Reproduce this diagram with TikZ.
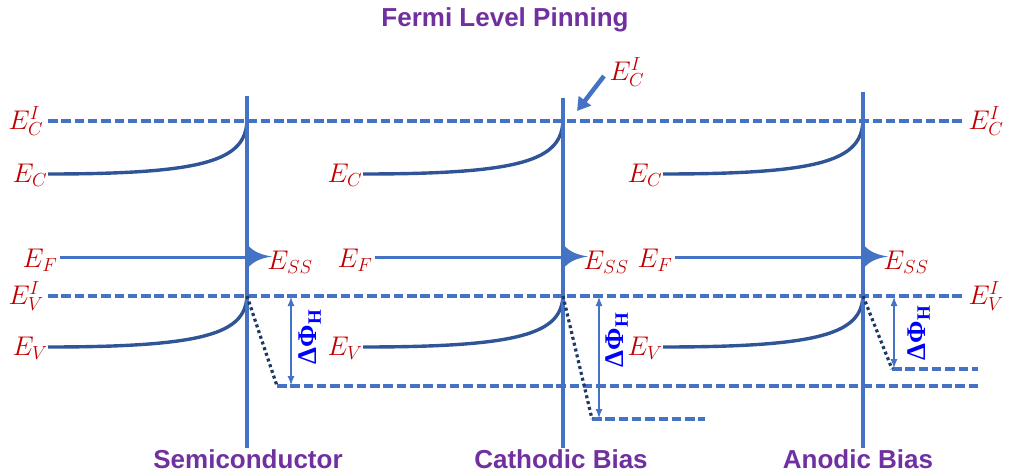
\RequirePackage{fix-cm}
\documentclass[tikz,border=0pt]{standalone}
\usepackage{fontspec}
\newfontfamily\titlefont{Liberation Sans}
\newfontfamily\greekfont{Liberation Serif}
\usetikzlibrary{arrows.meta}
\definecolor{lineblue}{HTML}{4472C4}
\definecolor{curveblue}{HTML}{2F5597}
\definecolor{navyd}{HTML}{1F3864}
\definecolor{labred}{HTML}{C00000}
\definecolor{purp}{HTML}{7030A0}
\definecolor{dblue}{HTML}{0000FF}
\begin{document}
\begin{tikzpicture}[x=1pt,y=-1pt,
 wall/.style={lineblue,line width=3.6pt},
 level/.style={lineblue,line width=3.2pt,dash pattern=on 9.5pt off 3.8pt},
 band/.style={curveblue,line width=3.4pt},
 fermi/.style={lineblue,line width=3pt},
 drop/.style={navyd,line width=3.2pt,dash pattern=on 3pt off 3pt},
 gaparrow/.style={lineblue,line width=1.1pt,{Latex[length=9pt,width=7pt]}-{Latex[length=9pt,width=7pt]}},
 elab/.style={labred,font=\fontsize{27}{30}\selectfont,inner sep=0pt},
 head/.style={purp,font=\titlefont\bfseries\fontsize{26}{30}\selectfont,inner sep=0pt},
 dphi/.style={dblue,rotate=90,font=\greekfont\bfseries\fontsize{27}{30}\selectfont,inner sep=0pt},
 ssfan/.style={fill=lineblue}]
\path[use as bounding box] (0,0) rectangle (1011,473);

% interface levels
\coordinate (eci-l) at (48,121);
\coordinate (eci-r) at (963,121);
\coordinate (evi-l) at (48,296);
\coordinate (evi-r) at (963,296);
\draw[level] (eci-l) -- (eci-r);
\draw[level] (evi-l) -- (evi-r);
\node[elab] (ecilab) at (26,121) {$E_C^I$};
\node[elab] (evilab) at (26,296) {$E_V^I$};
\node[elab] (ecirlab) at (986,121) {$E_C^I$};
\node[elab] (evirlab) at (986,296) {$E_V^I$};

% bottom shifted levels
\coordinate (d1a) at (277,386);
\coordinate (d1b) at (978,386);
\coordinate (d2a) at (592,419);
\coordinate (d2b) at (705,419);
\coordinate (d3a) at (892,369);
\coordinate (d3b) at (978,369);
\draw[level] (d1a) -- (d1b);
\draw[level] (d2a) -- (d2b);
\draw[level] (d3a) -- (d3b);

\foreach \i/\x/\s/\top in {1/247/48/96, 2/563/363/98, 3/863/663/92}{
  \coordinate (ec\i) at (\s,174);
  \coordinate (ev\i) at (\s,347);
  \coordinate (ef\i) at (\s+12,257);
  \coordinate (wt\i) at (\x,\top);
  \coordinate (wb\i) at (\x,448);
  \coordinate (wc\i) at (\x,121);
  \coordinate (wv\i) at (\x,296);
  \coordinate (wf\i) at (\x,257);
  \draw[band] (ec\i) .. controls (\x-40,174) and (\x-2,160) .. (wc\i);
  \draw[band] (ev\i) .. controls (\x-40,347) and (\x-2,333) .. (wv\i);
  \draw[fermi] (ef\i) -- (wf\i);
  \draw[wall] (wt\i) -- (wb\i);
  \fill[ssfan] (\x,244) .. controls (\x+6,252) and (\x+15,255) .. (\x+25,256.5)
     .. controls (\x+15,258) and (\x+6,261) .. (\x,269) -- cycle;
  \node[elab] (eclab\i) at (\s-18,175) {$E_C$};
  \node[elab] (evlab\i) at (\s-18,348) {$E_V$};
  \node[elab] (eflab\i) at (\s-8,260) {$E_F$};
  \node[elab] (esslab\i) at (\x+43,262) {$E_{SS}$};
}

% dotted drops
\draw[drop] (wv1) -- (d1a);
\draw[drop] (wv2) -- (d2a);
\draw[drop] (wv3) -- (d3a);

% delta phi arrows
\coordinate (a1t) at (291,297); \coordinate (a1b) at (291,385);
\coordinate (a2t) at (599,297); \coordinate (a2b) at (599,418);
\coordinate (a3t) at (894,297); \coordinate (a3b) at (894,368);
\draw[gaparrow] (a1t) -- (a1b);
\draw[gaparrow] (a2t) -- (a2b);
\draw[gaparrow] (a3t) -- (a3b);
\node[dphi] (dp1) at (310,337) {ΔΦ\textsubscript{H}};
\node[dphi] (dp2) at (617,340) {ΔΦ\textsubscript{H}};
\node[dphi] (dp3) at (919,333) {ΔΦ\textsubscript{H}};

% pointer
\node[elab] (ecptr) at (627,72) {$E_C^I$};
\coordinate (ptrs) at (604,76);
\coordinate (ptre) at (577,111);
\draw[lineblue,line width=4.5pt,-{Triangle[length=13pt,width=15pt]}] (ptrs) -- (ptre);

% titles
\node[head] (title) at (505,20) {Fermi Level Pinning};
\node[head] (lab1) at (248,459) {Semiconductor};
\node[head] (lab2) at (561,459) {Cathodic Bias};
\node[head] (lab3) at (858,459) {Anodic Bias};
\end{tikzpicture}
\end{document}
